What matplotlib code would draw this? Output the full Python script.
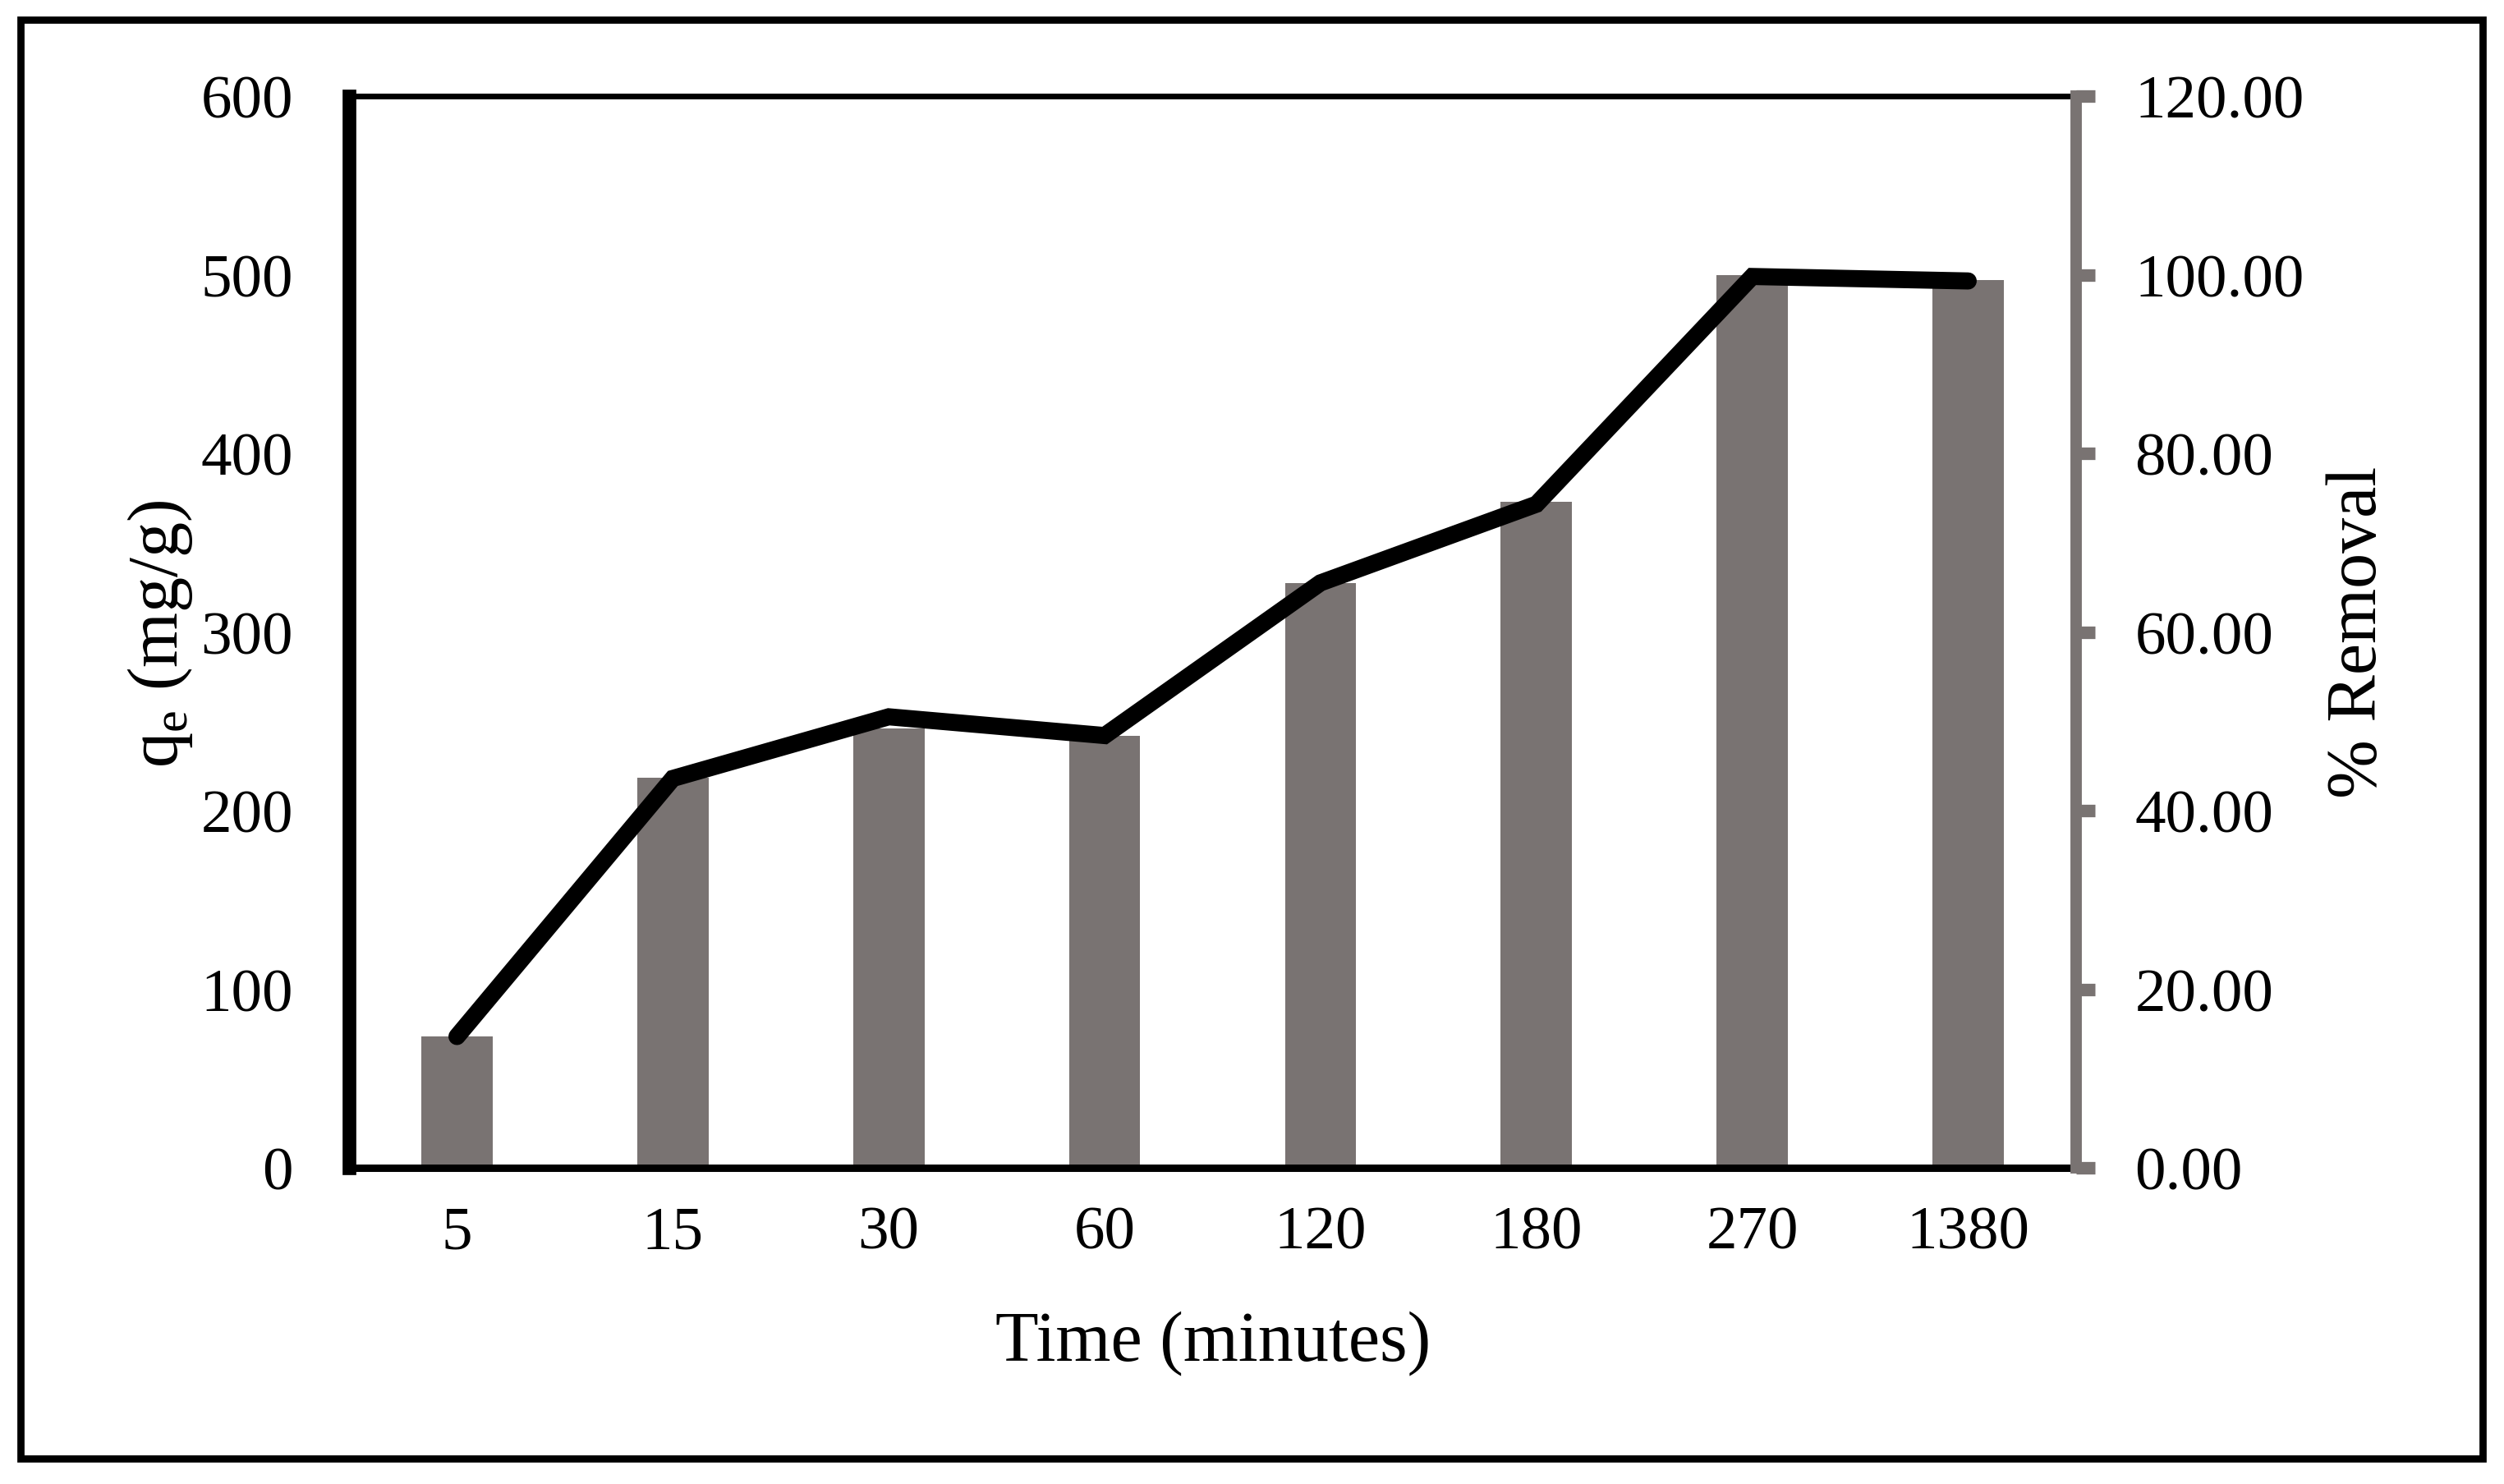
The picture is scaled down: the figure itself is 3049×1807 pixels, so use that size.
import matplotlib
matplotlib.use("Agg")
import matplotlib.pyplot as plt
from matplotlib.patches import Rectangle
from matplotlib.ticker import FormatStrFormatter

plt.rcParams['font.family'] = ['Liberation Serif', 'DejaVu Serif']
plt.rcParams['mathtext.fontset'] = 'custom'
plt.rcParams['mathtext.rm'] = 'Liberation Serif'
plt.rcParams['mathtext.it'] = 'Liberation Serif:italic'

# ---- data ----
time_labels = ['5', '15', '30', '60', '120', '180', '270', '1380']
qe_values = [73.6, 218.4, 246.0, 242.0, 327.5, 373.0, 500.0, 497.2]       # bars, mg/g
removal_values = [14.7, 43.6, 50.5, 48.4, 65.5, 74.3, 99.8, 99.3]         # line, %
left_ticks = [0, 100, 200, 300, 400, 500, 600]
right_ticks = [0, 20, 40, 60, 80, 100, 120]

BAR_C = '#797372'
W, H, DPI = 3049, 1808, 100
fig = plt.figure(figsize=(W / DPI, H / DPI), dpi=DPI)

L, R, T, B = 425, 2528, 118, 1423
ax = fig.add_axes([L / W, 1 - B / H, (R - L) / W, (B - T) / H])
x = list(range(len(time_labels)))
ax.bar(x, qe_values, width=0.33, color=BAR_C, zorder=2)
ax.set_xlim(-0.5, len(time_labels) - 0.5)
ax.set_ylim(0, 600)
ax.set_yticks(left_ticks)
ax.set_xticks(x)
ax.set_xticklabels(time_labels)
ax.tick_params(axis='y', length=0, pad=49, labelsize=54)
ax.tick_params(axis='x', length=0, pad=33, labelsize=54)

ax2 = ax.twinx()
ax2.plot(x, removal_values, color='black', lw=15, solid_capstyle='round',
         solid_joinstyle='miter', zorder=3)
ax2.set_ylim(0, 120)
ax2.set_yticks(right_ticks)
ax2.yaxis.set_major_formatter(FormatStrFormatter('%.2f'))
ax2.tick_params(axis='y', direction='out', length=16.5, width=11, color=BAR_C,
                pad=35, labelsize=54)

for a in (ax, ax2):
    a.spines['left'].set_linewidth(12)
    a.spines['left'].set_color('black')
    a.spines['top'].set_linewidth(5)
    a.spines['top'].set_color('black')
    a.spines['bottom'].set_linewidth(6.5)
    a.spines['bottom'].set_color('black')
    a.spines['right'].set_linewidth(10)
    a.spines['right'].set_color(BAR_C)
ax.spines['right'].set_visible(False)
ax2.spines['left'].set_visible(False)
ax2.spines['top'].set_visible(False)
ax2.spines['bottom'].set_visible(False)

fig.text(195 / W, 1 - 772 / H, r'q$_{\mathrm{e}}$ (mg/g)', rotation=90,
         ha='center', va='center', fontsize=62)
fig.text(2872 / W, 1 - 770 / H, '% Removal', rotation=90,
         ha='center', va='center', fontsize=62)
fig.text(1477 / W, 1 - 1656 / H, 'Time (minutes)', ha='center',
         va='baseline', fontsize=62)

fig.patches.append(Rectangle((25.5 / W, 1 - 1777 / H), (3022.5 - 25.5) / W,
                             (1777 - 25) / H, transform=fig.transFigure,
                             fill=False, edgecolor='black', linewidth=6.3))

fig.savefig('out.png', dpi=DPI)
